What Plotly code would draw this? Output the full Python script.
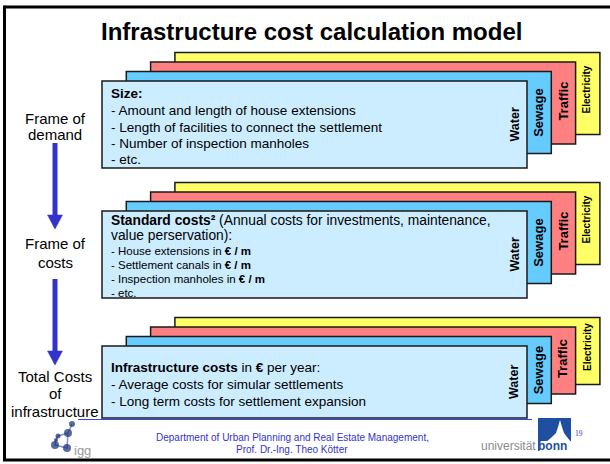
import plotly.graph_objects as go

FONT = "Liberation Sans, Arial, sans-serif"

# ---- content
title = "Infrastructure cost calculation model"
stage_labels = [["Frame of", "demand"], ["Frame of", "costs"], ["Total Costs", "of", "infrastructure"]]
stage_label_y = [[118, 134], [243, 262], [376, 393, 411]]

layers = ["Water", "Sewage", "Traffic", "Electricity"]
layer_colors = ["#CCECFF", "#66CCFF", "#FF8080", "#FFFF66"]
layer_font = [12.5, 13, 13, 10]

size_lines = ["<b>Size:</b>",
              "- Amount and length of house extensions",
              "- Length of facilities to connect the settlement",
              "- Number of inspection manholes",
              "- etc."]
cost_lines = ["<b>Standard costs²</b> (Annual costs for investments, maintenance,",
              "value perservation):",
              "- House extensions in <b>€ / m</b>",
              "- Settlement canals in <b>€ / m</b>",
              "- Inspection manholes in <b>€ / m</b>",
              "- etc."]
total_lines = ["<b>Infrastructure costs</b> in <b>€</b> per year:",
               "- Average costs for simular settlements",
               "- Long term costs for settlement expansion"]

footer = ["Department of Urban Planning and Real Estate Management,", "Prof. Dr.-Ing. Theo Kötter"]
page_no = "19"

# ---- geometry of the three card stacks (front card top, front card height)
sections = [
    dict(top=81, h=87, lines=size_lines, ly=[93, 110, 127, 143, 159], fs=[13.5] * 5),
    dict(top=211, h=87, lines=cost_lines, ly=[220, 235.5, 251, 265, 279, 293],
         fs=[13.8, 13.8, 11.5, 11.5, 11.5, 11.5]),
    dict(top=346, h=72, lines=total_lines, ly=[367, 384, 401], fs=[13.5] * 3),
]
DX, DY = 24.3, 9.5
X0, X1 = 102, 527
label_dy = [0, 0, -2, -4]

fig = go.Figure()
shapes = []
annots = []

# slide frame
shapes.append(dict(type="line", x0=4.5, x1=612, y0=7, y1=7, line=dict(color="black", width=3)))
shapes.append(dict(type="line", x0=4.5, x1=4.5, y0=5.5, y1=461, line=dict(color="black", width=3)))
shapes.append(dict(type="line", x0=3, x1=612, y0=460, y1=460, line=dict(color="black", width=3)))

annots.append(dict(x=311, y=31, text=f"<b>{title}</b>", font=dict(size=24, color="black", family=FONT),
                   xanchor="center", yanchor="middle"))

# card stacks
for s in sections:
    for k in reversed(range(len(layers))):
        x0 = X0 + DX * k
        x1 = X1 + DX * k
        y0 = s["top"] - DY * k
        y1 = y0 + (s["h"] if k == 0 else s["h"] - 5)
        shapes.append(dict(type="rect", x0=x0, x1=x1, y0=y0, y1=y1,
                           fillcolor=layer_colors[k], line=dict(color="#1a1a1a", width=1.5)))
        annots.append(dict(x=x1 - 13, y=(y0 + y1) / 2 + label_dy[k], text=f"<b>{layers[k]}</b>",
                           textangle=-90, font=dict(size=layer_font[k], color="black", family=FONT),
                           xanchor="center", yanchor="middle"))
    for txt, y, fs in zip(s["lines"], s["ly"], s["fs"]):
        annots.append(dict(x=109, y=y, text=txt, font=dict(size=fs, color="black", family=FONT),
                           xanchor="left", yanchor="middle", align="left"))

# left stage labels
for lines, ys in zip(stage_labels, stage_label_y):
    for txt, y in zip(lines, ys):
        annots.append(dict(x=55, y=y, text=txt, font=dict(size=15, color="black", family=FONT),
                           xanchor="center", yanchor="middle"))

# arrows between stages
ARROW = "#3333CC"
for ya, yb in [(143, 229), (279, 365)]:
    shapes.append(dict(type="line", x0=55, x1=55, y0=ya, y1=yb - 12, line=dict(color=ARROW, width=5)))
    shapes.append(dict(type="path", path=f"M 47.5 {yb-14} L 62.5 {yb-14} L 55 {yb} Z",
                       fillcolor=ARROW, line=dict(color=ARROW, width=0.5)))

# thin hyperlink underline
shapes.append(dict(type="line", x0=78, x1=532, y0=419.5, y1=419.5, line=dict(color="#3344EE", width=1), layer="below"))

# footer
annots.append(dict(x=292, y=437, text=footer[0], font=dict(size=10, color="#3333CC", family=FONT),
                   xanchor="center", yanchor="middle"))
annots.append(dict(x=292, y=449.5, text=footer[1], font=dict(size=10, color="#3333CC", family=FONT),
                   xanchor="center", yanchor="middle"))
annots.append(dict(x=573, y=433, text=page_no, font=dict(size=7.5, color="#3333CC", family="Liberation Serif, serif"),
                   xanchor="left", yanchor="middle"))

# igg logo
igg_x = [72, 68, 58, 56, 55, 67]
igg_y = [424, 433, 436, 440, 445, 448]
fig.add_trace(go.Scatter(x=[72, 68, 67, 55, 56, 58, 68], y=[424, 433, 448, 445, 440, 436, 433],
                         mode="lines", line=dict(color="#7F93CC", width=1.5), hoverinfo="skip",
                         showlegend=False, cliponaxis=False))
fig.add_trace(go.Scatter(x=igg_x, y=igg_y, mode="markers",
                         marker=dict(color="#142C7A", size=[6, 8, 5, 4, 8, 8], line=dict(width=0)),
                         hoverinfo="skip", showlegend=False, cliponaxis=False))
annots.append(dict(x=72, y=450, text="igg", font=dict(size=13, color="#9A9A9A", family=FONT),
                   xanchor="left", yanchor="middle"))

# uni bonn logo
BONN = "#1E4FA0"
shapes.append(dict(type="rect", x0=538, x1=571, y0=418, y1=451, fillcolor=BONN, line=dict(width=0)))
shapes.append(dict(type="path",
                   path="M 546 442 L 552 437 L 556 433 L 558 427 L 560 420 L 562 427 L 564 433 "
                        "L 567 437 L 571 442 Z",
                   fillcolor="white", line=dict(width=0)))
shapes.append(dict(type="rect", x0=539.5, x1=571, y0=441, y1=451, fillcolor="white", line=dict(width=0)))
annots.append(dict(x=538, y=446, text="universität", font=dict(size=12, color="#8A8A8A", family=FONT),
                   xanchor="right", yanchor="middle"))
annots.append(dict(x=536, y=446, text="<b>bonn</b>", font=dict(size=12, color=BONN, family=FONT),
                   xanchor="left", yanchor="middle"))

for a in annots:
    a.update(showarrow=False, xref="x", yref="y")
for sh in shapes:
    sh.setdefault("xref", "x")
    sh.setdefault("yref", "y")

fig.update_layout(
    width=610, height=464,
    margin=dict(l=0, r=0, t=0, b=0),
    paper_bgcolor="white", plot_bgcolor="white",
    shapes=shapes, annotations=annots,
    showlegend=False,
)
fig.update_xaxes(range=[0, 610], visible=False, fixedrange=True)
fig.update_yaxes(range=[464, 0], visible=False, fixedrange=True)

# page body has a default 8px margin; drop it so the slide fills the window
fig.write_html("out.html", config=dict(displayModeBar=False),
               post_script="document.body.style.margin='0px';document.body.style.overflow='hidden';")
